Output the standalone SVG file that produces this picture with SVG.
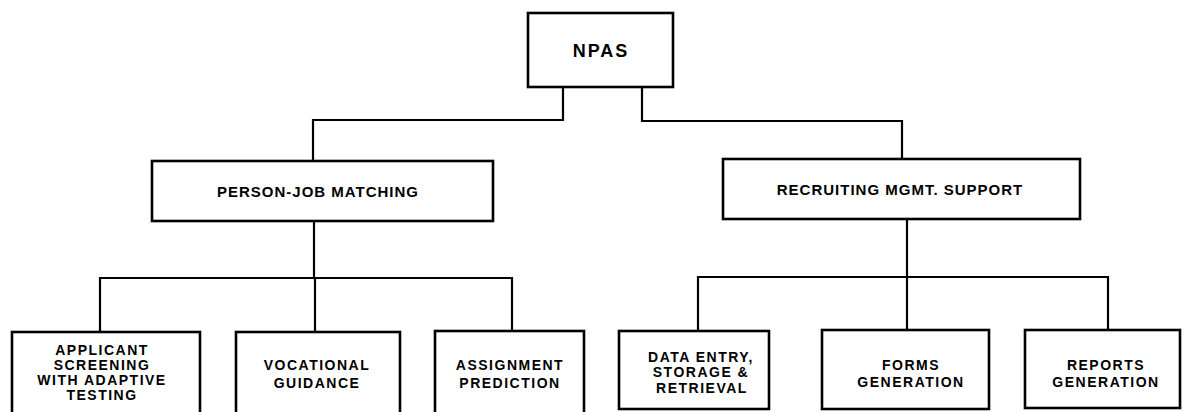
<svg xmlns="http://www.w3.org/2000/svg" width="1184" height="412" viewBox="0 0 1184 412">
<style>
.box{fill:#fff;stroke:#000;stroke-width:2.6}
.con{fill:none;stroke:#000;stroke-width:2.2}
text{font-family:"Liberation Sans",Arial,sans-serif;font-weight:bold;fill:#000;text-anchor:middle}
.t0{font-size:18px;letter-spacing:2px}
.t1{font-size:15px;letter-spacing:1px}
.t2{font-size:14px;letter-spacing:1.5px}
</style>
<rect width="1184" height="412" fill="#fff"/>
<g id="connectors">
<path class="con" d="M563 87 V120 H313 V161"/>
<path class="con" d="M642 87 V121 H902 V159"/>
<path class="con" d="M314 221 V278"/>
<path class="con" d="M100 332 V278 H512 V331"/>
<path class="con" d="M315 278 V332"/>
<path class="con" d="M907 219 V331"/>
<path class="con" d="M698 331 V277 H1108 V331"/>
</g>
<g id="npas"><rect class="box" x="528" y="13" width="145" height="74"/><text class="t0" x="601" y="57">NPAS</text></g>
<g id="pjm"><rect class="box" x="152" y="161" width="341" height="60"/><text class="t1" x="318" y="197">PERSON-JOB MATCHING</text></g>
<g id="rms"><rect class="box" x="723" y="159" width="357" height="60"/><text class="t1" x="900" y="195">RECRUITING MGMT. SUPPORT</text></g>
<g id="applicant"><rect class="box" x="12" y="332" width="188" height="90"/>
<text class="t2" x="102" y="355">APPLICANT</text><text class="t2" x="102" y="370">SCREENING</text><text class="t2" x="102" y="385">WITH ADAPTIVE</text><text class="t2" x="102" y="400">TESTING</text></g>
<g id="vocational"><rect class="box" x="236" y="332" width="164" height="90"/>
<text class="t2" x="317" y="370">VOCATIONAL</text><text class="t2" x="317" y="388">GUIDANCE</text></g>
<g id="assignment"><rect class="box" x="435" y="331" width="149" height="90"/>
<text class="t2" x="510" y="370">ASSIGNMENT</text><text class="t2" x="510" y="388">PREDICTION</text></g>
<g id="dataentry"><rect class="box" x="619" y="331" width="150" height="78"/>
<text class="t2" x="701" y="362">DATA ENTRY,</text><text class="t2" x="701" y="377">STORAGE &amp;</text><text class="t2" x="702" y="393">RETRIEVAL</text></g>
<g id="forms"><rect class="box" x="822" y="330" width="167" height="79"/>
<text class="t2" x="911" y="370">FORMS</text><text class="t2" x="911" y="387">GENERATION</text></g>
<g id="reports"><rect class="box" x="1025" y="330" width="155" height="78"/>
<text class="t2" x="1106" y="370">REPORTS</text><text class="t2" x="1106" y="387">GENERATION</text></g>
</svg>
